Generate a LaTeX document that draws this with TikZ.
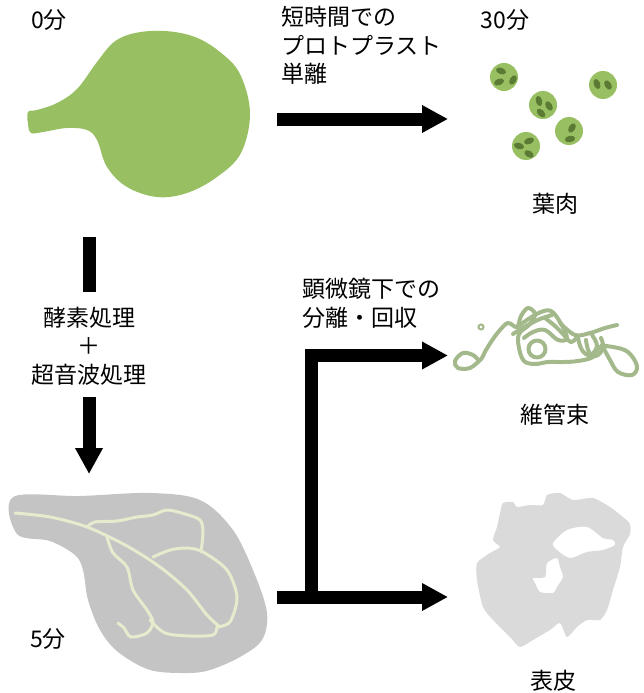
\documentclass[tikz,border=0pt]{standalone}
\usepackage{fontspec}
\setmainfont{Noto Sans CJK JP}
\usetikzlibrary{arrows.meta}
\definecolor{leafgreen}{HTML}{98C062}
\definecolor{chloro}{HTML}{5B7A33}
\definecolor{bundle}{HTML}{A4B98B}
\definecolor{leafgray}{HTML}{C4C4C4}
\definecolor{vein}{HTML}{E6EBCD}
\definecolor{epi}{HTML}{DADADA}
\begin{document}
\begin{tikzpicture}[x=1pt,y=-1pt,
  lbl/.style={font=\fontsize{23}{28.5}\selectfont, inner sep=0pt, align=center},
  lblleft/.style={lbl, align=left, anchor=north west},
  bigarrow/.style={line width=13pt, -{Triangle[length=26pt,width=26pt]}},
  shaft/.style={line width=13pt},
  proto/.style={fill=leafgreen},
  cp/.style={fill=chloro},
  veinline/.style={draw=vein, line width=3pt, line cap=round, line join=round},
  strand/.style={draw=bundle, line width=4pt, line cap=round, line join=round}]
\useasboundingbox (0,0) rectangle (643,693);

% ---- intact leaf (0 min)
\fill[leafgreen] plot[smooth cycle, tension=0.6] coordinates {
  (28,112) (37,110) (57,103) (77,89) (97,62) (114,42) (135,33) (165,31)
  (195,37) (220,52) (240,74) (250,113) (241,153) (217,177) (187,193) (157,197)
  (127,187) (107,167) (97,140) (87,130) (67,128) (43,132) (31,133) (28,124)};

% ---- protoplasts
\foreach \cx/\cy in {504/77, 603/85, 543/105, 569/131, 526/146}
  \fill[proto] (\cx,\cy) circle (14);
\foreach \px/\py/\ang in {501/71/-20, 499/82/20, 513/80/60,
                          597/84/-70, 608/85/-60,
                          539/101/-75, 549/106/-60, 541/113/-45,
                          572/128/60, 570/139/10,
                          519/146/-15, 529/141/20, 529/154/-30}
  \fill[cp, rotate around={\ang:(\px,\py)}] (\px,\py) ellipse (5.2 and 3.2);

% ---- vascular bundle
\draw[strand] plot[smooth, tension=0.6] coordinates {
  (480,360) (470,368) (458,368) (455,361) (463,353) (473,355) (480,360)
  (486,350) (493,339) (500,330) (508,323) (517,327) (521,316) (528,308)
  (535,314) (530,324) (519,334) (519,348) (524,361) (535,364) (548,362)
  (563,362) (578,361) (593,357) (600,347) (613,347) (628,352) (637,366)
  (632,375) (618,372) (610,360) (602,345)};
\draw[strand] plot[smooth, tension=0.6] coordinates {
  (517,327) (530,318) (541,312) (551,311) (560,322) (567,338) (558,340)
  (545,330) (533,332) (524,338)};
\draw[strand] plot[smooth, tension=0.6] coordinates {
  (513,334) (526,326) (540,319) (552,315)};
\draw[strand] plot[smooth, tension=0.6] coordinates {
  (545,318) (555,326) (563,334) (571,342) (578,336)};
\draw[strand] (537,349) circle (8.5);
\draw[strand] plot[smooth, tension=0.6] coordinates {
  (560,323) (575,335) (590,333) (605,328) (617,325)};
\draw[strand] plot[smooth, tension=0.7] coordinates {
  (578,338) (582,350) (590,355) (597,346) (592,335)};
\draw[strand] plot[smooth, tension=0.7] coordinates {
  (586,340) (589,352) (596,356) (603,348) (601,338)};
\draw[bundle, line width=2pt] (481,327) circle (2.5);

% ---- digested leaf (5 min)
\fill[leafgray] plot[smooth cycle, tension=0.55] coordinates {
  (13,497) (80,496) (150,493) (200,500) (233,530) (255,575) (267,613)
  (262,640) (240,657) (210,670) (187,673) (150,670) (118,652) (100,630)
  (88,600) (83,570) (75,555) (50,541) (17,534)};
\draw[veinline] plot[smooth, tension=0.5] coordinates {
  (15,513) (50,517) (87,527) (127,546) (160,567) (187,590) (207,615) (220,627)};
\draw[veinline] plot[smooth, tension=0.5] coordinates {
  (153,557) (170,550) (187,548) (203,552) (227,570) (237,597) (230,622) (217,627)};
\draw[veinline] plot[smooth, tension=0.5] coordinates {
  (87,527) (95,522) (117,521) (137,517) (153,515) (167,510) (185,514)
  (200,520) (203,532) (201,552)};
\draw[veinline] plot[smooth, tension=0.5] coordinates {
  (107,537) (113,553) (127,567) (133,590) (147,610) (153,622) (147,633)
  (131,637) (124,628) (118,623)};
\draw[veinline] plot[smooth, tension=0.5] coordinates {
  (150,620) (165,633) (190,636) (213,635) (217,627)};

% ---- epidermis
\fill[epi, even odd rule] plot[smooth cycle, tension=0.4] coordinates {
  (503,503) (513,502) (517,507) (530,505) (543,505) (547,495) (560,493)
  (573,500) (593,498) (610,507) (623,517) (630,524) (630,534) (623,547)
  (620,567) (613,590) (607,610) (600,620) (587,620) (577,627) (567,637)
  (560,623) (550,630) (533,640) (520,647) (510,637) (493,620) (483,607)
  (477,580) (477,563) (490,553) (500,547) (493,540) (497,527) (500,513)}
  plot[smooth cycle, tension=0.5] coordinates {
  (553,543) (567,530) (587,527) (603,538) (613,540) (615,545) (603,550)
  (587,552) (570,558) (557,550)}
  plot[smooth cycle, tension=0.4] coordinates {
  (533,578) (545,577) (547,563) (557,558) (560,567) (563,577) (557,587)
  (553,593) (540,592) (535,583)};

% ---- labels
\node[lbl] (t0) at (49,20) {0分};
\node[lbl] (t30) at (505,20) {30分};
\node[lbl] (t5) at (48,639) {5分};
\node[lbl] (meso) at (555,204) {葉肉};
\node[lbl] (vasc) at (555,415) {維管束};
\node[lbl] (epid) at (553,681) {表皮};
\node[lblleft] (iso) at (281,6) {短時間での\\プロトプラスト\\単離};
\node[lblleft] (micro) at (302,278) {顕微鏡下での\\分離・回収};
\node[lbl] (treat) at (89,346) {酵素処理\\＋\\超音波処理};

% ---- arrows
\coordinate (a1s) at (277,119);
\coordinate (a1e) at (448,119);
\draw[bigarrow] (a1s) -- (a1e);

\coordinate (vtop) at (89,237);
\coordinate (vmid1) at (89,292);
\coordinate (vmid2) at (89,397);
\coordinate (vend) at (89,474);
\draw[shaft] (vtop) -- (vmid1);
\draw[bigarrow] (vmid2) -- (vend);

\coordinate (bstart) at (277,597);
\coordinate (bend) at (448,597);
\coordinate (bfoot) at (311.5,597);
\coordinate (bcorner) at (311.5,355.5);
\coordinate (tend) at (448,355.5);
\draw[bigarrow] (bstart) -- (bend);
\draw[bigarrow, line join=miter] (bfoot) -- (bcorner) -- (tend);
\end{tikzpicture}
\end{document}
